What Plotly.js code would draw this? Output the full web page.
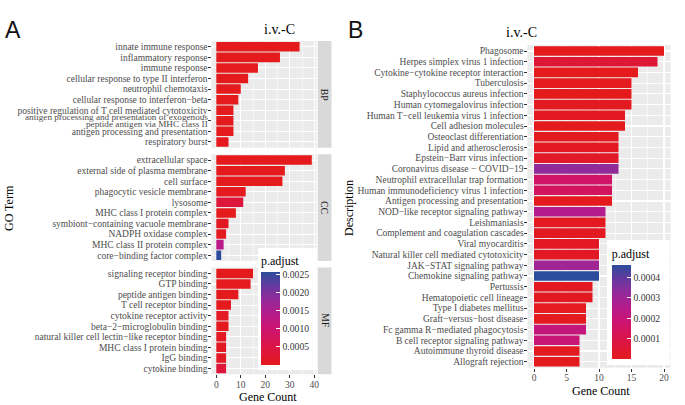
<!DOCTYPE html>
<html><head><meta charset="utf-8">
<script src="https://cdn.plot.ly/plotly-3.0.1.min.js"></script>
<style>html,body{margin:0;padding:0;background:#fff}#chart{width:685px;height:405px}</style>
</head><body><div id="chart"></div>
<script>
// ---------------- Panel A : GO terms ----------------
const bpTerms = ["innate immune response","inflammatory response","immune response","cellular response to type II interferon","neutrophil chemotaxis","cellular response to interferon\u2212beta","positive regulation of T cell mediated cytotoxicity","antigen processing and presentation of exogenous\npeptide antigen via MHC class II","antigen processing and presentation","respiratory burst"];
const bpCounts = [34,26,17,13,10,9,7,7,7,5];
const bpPadj = [2.1e-9,4.5e-8,1.3e-6,6.2e-8,3.4e-7,8.8e-8,1.5e-6,4.0e-6,7.5e-6,1.9e-5];

const ccTerms = ["extracellular space","external side of plasma membrane","cell surface","phagocytic vesicle membrane","lysosome","MHC class I protein complex","symbiont\u2212containing vacuole membrane","NADPH oxidase complex","MHC class II protein complex","core\u2212binding factor complex"];
const ccCounts = [39,28,27,12,11,8,5,4,3,2];
const ccPadj = [3.0e-7,1.2e-9,5.1e-6,2.2e-5,3.8e-4,1.1e-5,6.5e-5,4.4e-5,1.35e-3,2.56e-3];

const mfTerms = ["signaling receptor binding","GTP binding","peptide antigen binding","T cell receptor binding","cytokine receptor activity","beta\u22122\u2212microglobulin binding","natural killer cell lectin\u2212like receptor binding","MHC class I protein binding","IgG binding","cytokine binding"];
const mfCounts = [15,14,9,6,5,5,4,4,4,4];
const mfPadj = [1.6e-5,2.3e-5,7.0e-7,1.4e-5,9.5e-5,2.0e-5,8.1e-5,1.05e-4,1.2e-4,3.6e-4];

const facetNames = ["BP","CC","MF"];
const countTicksA = [0,10,20,30,40];
const padjTicksA = [0.0005,0.0010,0.0015,0.0020,0.0025];
const padjLabelsA = ["0.0005","0.0010","0.0015","0.0020","0.0025"];

// ---------------- Panel B : KEGG ----------------
const keggTerms = ["Phagosome","Herpes simplex virus 1 infection","Cytokine\u2212cytokine receptor interaction","Tuberculosis","Staphylococcus aureus infection","Human cytomegalovirus infection","Human T\u2212cell leukemia virus 1 infection","Cell adhesion molecules","Osteoclast differentiation","Lipid and atherosclerosis","Epstein\u2212Barr virus infection","Coronavirus disease \u2212 COVID\u221219","Neutrophil extracellular trap formation","Human immunodeficiency virus 1 infection","Antigen processing and presentation","NOD\u2212like receptor signaling pathway","Leishmaniasis","Complement and coagulation cascades","Viral myocarditis","Natural killer cell mediated cytotoxicity","JAK\u2212STAT signaling pathway","Chemokine signaling pathway","Pertussis","Hematopoietic cell lineage","Type I diabetes mellitus","Graft\u2212versus\u2212host disease","Fc gamma R\u2212mediated phagocytosis","B cell receptor signaling pathway","Autoimmune thyroid disease","Allograft rejection"];
const keggCounts = [20,19,16,15,15,15,14,14,13,13,13,13,12,12,12,11,11,11,10,10,10,10,9,9,8,8,8,7,7,7];
const keggPadj = [2.0e-7,5.8e-5,3.1e-6,4.2e-6,1.5e-7,9.0e-6,1.1e-5,2.4e-6,6.0e-6,1.3e-5,2.5e-5,3.3e-4,1.6e-4,1.45e-4,4.0e-6,2.6e-4,8.0e-6,1.2e-5,1.8e-5,1.9e-5,3.0e-4,4.62e-4,1.0e-5,1.4e-5,6.5e-6,5.0e-6,2.1e-4,1.95e-4,7.0e-6,3.5e-6];
const countTicksB = [0,5,10,15,20];
const padjTicksB = [0.0001,0.0002,0.0003,0.0004];
const padjLabelsB = ["0.0001","0.0002","0.0003","0.0004"];

const panelTitle = "i.v.-C";
const countTitle = "Gene Count";

// ---------------- styling ----------------
const W = 685, H = 405;
const px = v => v / W;
const py = v => 1 - v / H;
const SERIF = "Liberation Serif, Times New Roman, serif";
const tickFont = {family: SERIF, size: 9.5, color: "#4d4d4d"};
const wrapFont = {family: SERIF, size: 9.2, color: "#4d4d4d"};
const scale = [[0,"#e41a1c"],[0.2,"#dc1547"],[0.4,"#cb1472"],[0.55,"#b61b8c"],[0.7,"#952a9a"],[0.85,"#66399f"],[1,"#2b4c9b"]];
const mids = a => a.slice(0, -1).map((v, i) => (v + a[i + 1]) / 2);

const facets = [
  {terms: bpTerms, counts: bpCounts, padj: bpPadj, dom: [147.7, 41]},
  {terms: ccTerms, counts: ccCounts, padj: ccPadj, dom: [261, 154.3]},
  {terms: mfTerms, counts: mfCounts, padj: mfPadj, dom: [374.3, 267.6]}
];

const traces = [];
const layout = {
  width: W, height: H, autosize: false,
  margin: {l: 0, r: 0, t: 0, b: 0, autoexpand: false},
  paper_bgcolor: "#fff", plot_bgcolor: "#ebebeb",
  showlegend: false,
  font: {family: SERIF},
  shapes: [], annotations: [],
  coloraxis: {
    colorscale: scale,
    colorbar: {
      x: px(258), xanchor: "left", xpad: 3,
      y: py(370), yanchor: "bottom", ypad: 5,
      lenmode: "pixels", len: 122,
      thicknessmode: "pixels", thickness: 19,
      bgcolor: "#ffffff", outlinewidth: 0,
      ticks: "inside", ticklen: 4, tickcolor: "#ffffff",
      tickmode: "array", tickvals: padjTicksA, ticktext: padjLabelsA,
      tickfont: {family: SERIF, size: 9.7, color: "#333"},
      title: {text: "p.adjust", side: "top", font: {family: SERIF, size: 12, color: "#000"}}
    }
  },
  coloraxis2: {
    colorscale: scale,
    colorbar: {
      x: px(606.7), xanchor: "left", xpad: 5,
      y: py(365), yanchor: "bottom", ypad: 6,
      lenmode: "pixels", len: 125,
      thicknessmode: "pixels", thickness: 19,
      bgcolor: "#ffffff", outlinewidth: 0,
      ticks: "inside", ticklen: 4, tickcolor: "#ffffff",
      tickmode: "array", tickvals: padjTicksB, ticktext: padjLabelsB,
      tickfont: {family: SERIF, size: 9.7, color: "#333"},
      title: {text: "p.adjust", side: "top", font: {family: SERIF, size: 12, color: "#000"}}
    }
  }
};

function xAxisDef(dom, range, ticks, showLabels, anchor) {
  return {
    domain: dom, anchor: anchor, range: range, type: "linear",
    tickmode: "array", tickvals: ticks, ticktext: ticks.map(String),
    showticklabels: showLabels, ticks: showLabels ? "outside" : "", ticklen: 3, tickcolor: "#333",
    ticklabelstandoff: -2,
    tickfont: tickFont, showgrid: true, gridcolor: "#ffffff", gridwidth: 1.1,
    minor: {tickmode: "array", tickvals: mids(ticks), showgrid: true, gridcolor: "#ffffff", gridwidth: 0.5, ticks: ""},
    zeroline: false, showline: false, fixedrange: true
  };
}
function yAxisDef(dom, terms, anchor) {
  return {
    domain: dom, anchor: anchor, type: "category",
    categoryorder: "array", categoryarray: terms,
    range: [terms.length - 0.45, -0.55],
    tickmode: "array", tickvals: terms,
    ticktext: terms.map(t => t.indexOf("\n") >= 0 ? "" : t),
    ticks: "outside", ticklen: 3, tickcolor: "#333",
    ticklabelstandoff: -2,
    tickfont: tickFont, showgrid: true, gridcolor: "#ffffff", gridwidth: 1.1,
    zeroline: false, showline: false, fixedrange: true
  };
}

const xDomA = [px(211.5), px(316.6)];
const rangeA = [-0.05 * 39, 39 * 1.05];
facets.forEach((f, i) => {
  const n = i === 0 ? "" : String(i + 1);
  const xa = "x" + n, ya = "y" + n;
  traces.push({
    type: "bar", orientation: "h", x: f.counts, y: f.terms,
    xaxis: xa, yaxis: ya, width: 0.9,
    marker: {color: f.padj, coloraxis: "coloraxis", line: {width: 0}},
    hoverinfo: "skip"
  });
  layout["xaxis" + n] = xAxisDef(xDomA, rangeA, countTicksA, i === 2, ya);
  layout["yaxis" + n] = yAxisDef([py(f.dom[0]), py(f.dom[1])], f.terms, xa);
  // facet strip
  layout.shapes.push({type: "rect", xref: "paper", yref: ya + " domain",
    x0: px(317.7), x1: px(331.5), y0: 0, y1: 1, fillcolor: "#d9d9d9", line: {width: 0}, layer: "below"});
  layout.annotations.push({text: facetNames[i], xref: "paper", yref: ya + " domain",
    x: px(324.6), y: 0.5, showarrow: false, textangle: 90,
    font: {family: SERIF, size: 9.7, color: "#1a1a1a"}});
  // wrapped labels
  f.terms.forEach((t, k) => {
    if (t.indexOf("\n") >= 0) {
      const lines = t.split("\n");
      lines.forEach((ln, j) => {
        layout.annotations.push({text: ln, xref: xa + " domain", yref: ya, x: 0, y: k,
          xanchor: "right", yanchor: "middle", xshift: -3,
          yshift: (lines.length - 1) / 2 * 7.4 - j * 7.4,
          showarrow: false, borderpad: 0, font: wrapFont});
      });
    }
  });
});

// Panel B
traces.push({
  type: "bar", orientation: "h", x: keggCounts, y: keggTerms,
  xaxis: "x4", yaxis: "y4", width: 0.9,
  marker: {color: keggPadj, coloraxis: "coloraxis2", line: {width: 0}},
  hoverinfo: "skip"
});
layout.xaxis4 = xAxisDef([px(527.5), px(670.5)], [-1, 21], countTicksB, true, "y4");
layout.yaxis4 = yAxisDef([py(367.7), py(45)], keggTerms, "x4");
layout.yaxis4.range = [keggTerms.length - 0.44, -0.56];

// Text annotations
const ann = (text, x, y, size, extra) => Object.assign({text, xref: "paper", yref: "paper",
  x: px(x), y: py(y), showarrow: false, xanchor: "center", yanchor: "middle",
  font: {family: SERIF, size: size, color: "#000"}}, extra || {});
layout.annotations.push(
  ann("A", 3, 30, 23, {xanchor: "left", font: {family: "Liberation Sans, Arial, sans-serif", size: 23, color: "#111"}}),
  ann("B", 346, 30, 23, {xanchor: "left", font: {family: "Liberation Sans, Arial, sans-serif", size: 23, color: "#111"}}),
  ann(panelTitle, 279, 29.5, 14),
  ann(panelTitle, 521, 32, 14),
  ann("GO Term", 9, 208, 12, {textangle: -90}),
  ann("Description", 349, 208, 12, {textangle: -90}),
  ann(countTitle, 268, 397, 12),
  ann(countTitle, 601, 390.5, 12)
);

Plotly.newPlot("chart", traces, layout, {staticPlot: true, displayModeBar: false});
</script></body></html>
